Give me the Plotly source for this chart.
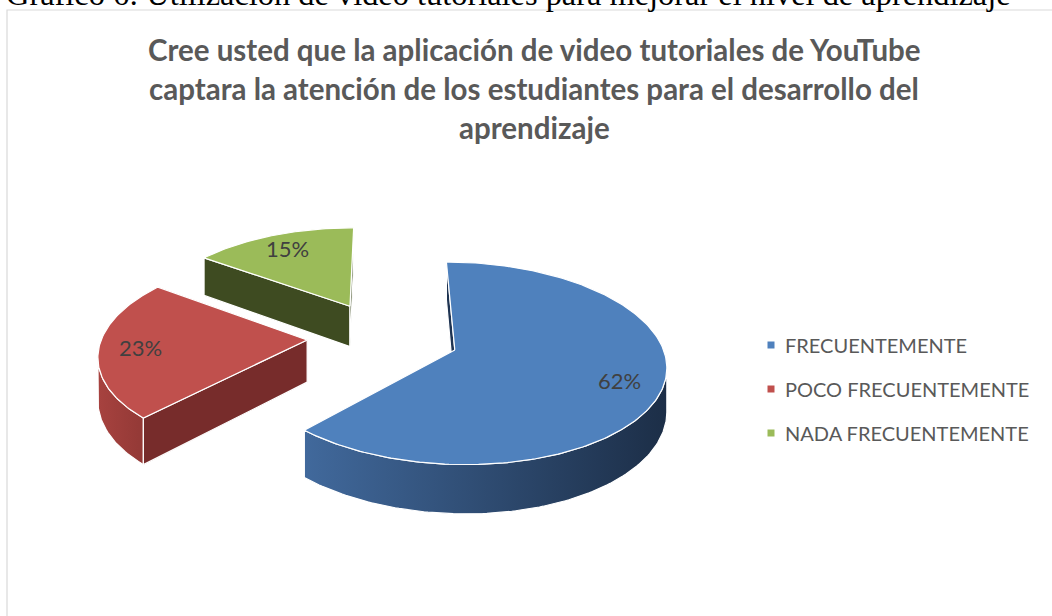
import numpy as np
import plotly.graph_objects as go

# ---------------- data ----------------
categories = ["FRECUENTEMENTE", "POCO FRECUENTEMENTE", "NADA FRECUENTEMENTE"]
values = [62, 23, 15]

caption = "Gráfico 6: Utilización de video tutoriales para mejorar el nivel de aprendizaje"
title_lines = [
    "Cree usted que la aplicación de video tutoriales de YouTube",
    "captara la atención de los estudiantes para el desarrollo del",
    "aprendizaje",
]

# ---------------- style ----------------
W, HPX = 1052, 616
top_colors = ["#4F81BD", "#C0504D", "#9BBB59"]
wall_grads = [("#41699C", "#1C2E47"), ("#A7423F", "#933936"), ("#6E8A3A", "#3E4B21")]
radial_colors = ["#1F3452", "#772C2B", "#3E4B21"]
TEXT_GREY = "#595959"
LABEL_GREY = "#404040"
SANS = "Lato"

# 3-D projection parameters (pixels)
CX, CY, RX, RY, DEPTH, PERSP, EXPLODE = 383, 336.6, 205, 96, 42, 0.13, 0.37


def proj(X, Y, Z):
    p = 1.0 / (1.0 + PERSP * Y)
    return CX + RX * X * p, CY - (RY * Y + DEPTH * Z) * p


def area(pts):
    s = 0.0
    n = len(pts)
    for k in range(n):
        x1, y1 = pts[k]
        x2, y2 = pts[(k + 1) % n]
        s += x1 * y2 - x2 * y1
    return s / 2.0


def poly_trace(pts, color=None, grad=None):
    xs = [p[0] for p in pts] + [pts[0][0]]
    ys = [p[1] for p in pts] + [pts[0][1]]
    kw = dict(x=xs, y=ys, mode="lines", fill="toself",
              line=dict(color="white", width=1.2),
              hoverinfo="skip", showlegend=False)
    if grad is not None:
        kw["fillgradient"] = dict(type="horizontal",
                                  colorscale=[[0, grad[0]], [1, grad[1]]])
    else:
        kw["fillcolor"] = color
    return go.Scatter(**kw)


fig = go.Figure()
total = float(sum(values))
cum = np.concatenate([[0.0], np.cumsum(values)]) / total * 2 * np.pi

slices = []
for i, v in enumerate(values):
    a0, a1 = cum[i], cum[i + 1]
    mid = 0.5 * (a0 + a1)
    ox, oy = EXPLODE * np.sin(mid), EXPLODE * np.cos(mid)
    slices.append((i, v, a0, a1, mid, ox, oy))

label_pos = []
for (i, v, a0, a1, mid, ox, oy) in sorted(slices, key=lambda s: -s[6]):
    n = max(3, int(np.degrees(a1 - a0)))
    angs = np.linspace(a0, a1, n)
    rim = lambda a, z: proj(ox + np.sin(a), oy + np.cos(a), z)
    vtop = proj(ox, oy, 0)
    vbot = proj(ox, oy, -1)

    # curved outer wall: visible runs
    runs, cur = [], []
    for k in range(len(angs) - 1):
        quad = [rim(angs[k], 0), rim(angs[k + 1], 0), rim(angs[k + 1], -1), rim(angs[k], -1)]
        if area(quad) < 0:
            if not cur:
                cur = [angs[k]]
            cur.append(angs[k + 1])
        else:
            if len(cur) > 1:
                runs.append(cur)
            cur = []
    if len(cur) > 1:
        runs.append(cur)
    for run in runs:
        pts = [rim(a, 0) for a in run] + [rim(a, -1) for a in run[::-1]]
        fig.add_trace(poly_trace(pts, grad=wall_grads[i]))

    # radial faces
    start_face = [vtop, rim(a0, 0), rim(a0, -1), vbot]
    end_face = [rim(a1, 0), vtop, vbot, rim(a1, -1)]
    for face in (start_face, end_face):
        if area(face) < 0:
            fig.add_trace(poly_trace(face, color=radial_colors[i]))

    # top face
    top = [vtop] + [rim(a, 0) for a in angs]
    fig.add_trace(poly_trace(top, color=top_colors[i]))

    lx, ly = proj(ox + 0.8 * np.sin(mid), oy + 0.8 * np.cos(mid), 0)
    label_pos.append((lx, ly, f"{v}%"))

annotations = []
for lx, ly, txt in label_pos:
    annotations.append(dict(x=lx, y=ly, xref="x", yref="y", text=txt, showarrow=False,
                            font=dict(family=SANS, size=22, color=LABEL_GREY)))

# title lines
for txt, yc in zip(title_lines, [49, 88, 127]):
    annotations.append(dict(x=534, y=yc, xref="x", yref="y", text=f"<b>{txt}</b>",
                            showarrow=False, xanchor="center", yanchor="middle",
                            font=dict(family=SANS, size=29.5, color=TEXT_GREY)))

# caption above chart area (cut by page top, as in the source)
annotations.append(dict(x=4 / W, y=1 + 6 / HPX, xref="paper", yref="paper", text=caption,
                        showarrow=False, xanchor="left", yanchor="middle",
                        font=dict(family="Liberation Serif", size=32.4, color="black")))

# chart border + legend
shapes = [dict(type="rect", xref="paper", yref="paper", x0=7 / W, x1=1.02,
               y0=-0.05, y1=1 - 10 / HPX, line=dict(color="#D9D9D9", width=1.2),
               fillcolor="rgba(0,0,0,0)", layer="below")]
for k, (cat, col) in enumerate(zip(categories, top_colors)):
    yy = 345 + 44 * k
    shapes.append(dict(type="rect", xref="x", yref="y", x0=767.5, x1=774.5,
                       y0=yy - 3.5, y1=yy + 3.5, fillcolor=col, line=dict(width=0)))
    annotations.append(dict(x=783, y=yy, xref="x", yref="y", text=cat, showarrow=False,
                            xanchor="left", yanchor="middle",
                            font=dict(family=SANS, size=20, color=TEXT_GREY)))

fig.update_layout(
    width=W, height=HPX, autosize=False,
    margin=dict(l=0, r=0, t=0, b=0),
    paper_bgcolor="white", plot_bgcolor="white",
    xaxis=dict(range=[0, W], visible=False, fixedrange=True),
    yaxis=dict(range=[HPX, 0], visible=False, fixedrange=True),
    annotations=annotations, shapes=shapes, showlegend=False,
)

fig.write_html("out.html", config={"displayModeBar": False},
               post_script="document.body.style.margin='0px';document.body.style.overflow='hidden';")
